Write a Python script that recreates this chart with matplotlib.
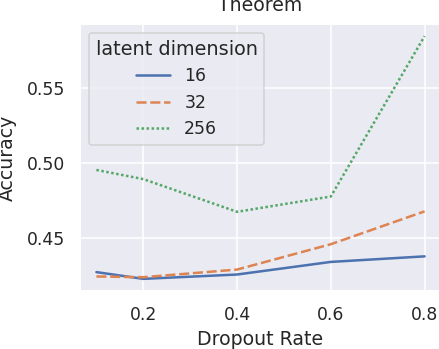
import matplotlib
matplotlib.use("Agg")
import matplotlib.pyplot as plt
import seaborn as sns

sns.set_theme(style="darkgrid", context="notebook")
plt.rcParams['font.family'] = ['DejaVu Sans']

dropout = [0.1, 0.2, 0.4, 0.6, 0.8]
acc_16 = [0.4274, 0.4229, 0.4258, 0.4342, 0.4379]
acc_32 = [0.4245, 0.4240, 0.4291, 0.4460, 0.4679]
acc_256 = [0.4955, 0.4894, 0.4676, 0.4778, 0.5847]
labels = ["16", "32", "256"]
xticks = [0.2, 0.4, 0.6, 0.8]
yticks = [0.45, 0.50, 0.55]

colors = sns.color_palette("deep")
dpi = 113
fig = plt.figure(figsize=(439 / dpi, 349 / dpi), dpi=dpi)
ax = fig.add_axes([80 / 439, (349 - 291) / 349, (441 - 80) / 439, 267 / 349])

lw = 1.6
ax.plot(dropout, acc_16, color=colors[0], lw=lw, label=labels[0])
ax.plot(dropout, acc_32, color=colors[1], lw=lw, label=labels[1], dashes=(4, 1.5))
ax.plot(dropout, acc_256, color=colors[2], lw=lw, label=labels[2], dashes=(1, 1))

ax.set_xticks(xticks)
ax.set_yticks(yticks)
ax.set_xlabel("Dropout Rate")
ax.set_ylabel("Accuracy", labelpad=6)
ax.set_title("Theorem", pad=8)
ax.legend(title="latent dimension", loc="upper left", title_fontsize=12.3)

fig.savefig("out.png", dpi=dpi)
